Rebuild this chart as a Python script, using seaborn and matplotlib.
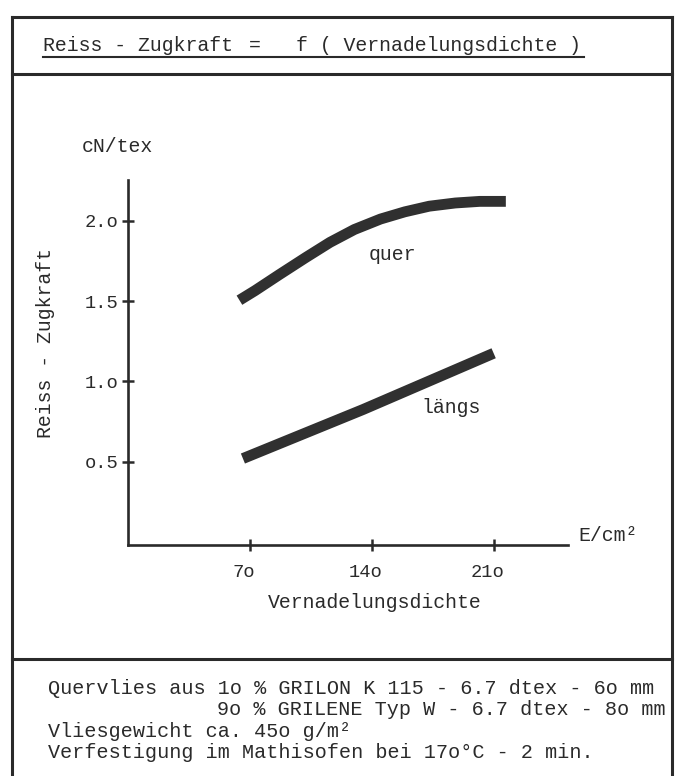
import matplotlib
matplotlib.use("Agg")
import matplotlib.pyplot as plt
from matplotlib.lines import Line2D
from matplotlib.transforms import ScaledTranslation
import numpy as np
import pandas as pd
import seaborn as sns

# ---- data ----
x_quer = [64, 73, 87, 102, 116, 130, 145, 159, 173, 188, 202, 217]
y_quer = [1.505, 1.565, 1.665, 1.77, 1.865, 1.945, 2.01, 2.055, 2.09, 2.11, 2.12, 2.12]
x_laengs = [66, 135, 210]
y_laengs = [0.52, 0.825, 1.175]

x_ticks = [70, 140, 210]
x_tick_labels = ["7o", "14o", "21o"]
y_ticks = [0.5, 1.0, 1.5, 2.0]
y_tick_labels = ["o.5", "1.o", "1.5", "2.o"]

title_left = "Reiss - Zugkraft"
title_right = "f ( Vernadelungsdichte )"
x_label = "Vernadelungsdichte"
y_label = "Reiss - Zugkraft"
y_unit = "cN/tex"
x_unit = "E/cm²"
footer_1 = "Quervlies aus 1o % GRILON K 115 - 6.7 dtex - 6o mm"
footer_2 = "9o % GRILENE Typ W - 6.7 dtex - 8o mm"
footer_3 = "Vliesgewicht ca. 45o g/m²"
footer_4 = "Verfestigung im Mathisofen bei 17o°C - 2 min."

sns.set_theme(style="white")
plt.rcParams["font.family"] = ["Liberation Mono", "DejaVu Sans Mono"]

INK = "#2a2a2a"
W, H = 677, 776
fig = plt.figure(figsize=(W / 100, H / 100), dpi=100)
fig.patch.set_facecolor("white")

FS = 14.5


def P(x, y):
    return x / W, 1 - y / H


def T(x, y, s, **kw):
    kw.setdefault("color", INK)
    kw.setdefault("ha", "left")
    kw.setdefault("va", "baseline")
    fig.text(*P(x, y), s, **kw)


def L(x1, y1, x2, y2, lw=2.2):
    a = P(x1, y1)
    b = P(x2, y2)
    fig.add_artist(Line2D([a[0], b[0]], [a[1], b[1]], transform=fig.transFigure,
                          lw=lw, color=INK, solid_capstyle="projecting"))


ax = fig.add_axes([128 / W, 1 - 545 / H, 440 / W, 365 / H])

df = pd.concat([
    pd.DataFrame({"E": x_quer, "F": y_quer, "Richtung": "quer"}),
    pd.DataFrame({"E": x_laengs, "F": y_laengs, "Richtung": "längs"}),
])
sns.lineplot(data=df, x="E", y="F", hue="Richtung",
             palette={"quer": "#303030", "längs": "#303030"},
             linewidth=7.8, legend=False, ax=ax, sort=False, estimator=None)
for ln in ax.lines:
    ln.set_solid_capstyle("butt")
    ln.set_solid_joinstyle("round")

ax.set_xlim(0, 252.7)
ax.set_ylim(-0.018, 2.253)
ax.set_facecolor("none")
for s in ["top", "right"]:
    ax.spines[s].set_visible(False)
for s in ["left", "bottom"]:
    ax.spines[s].set_linewidth(1.9)
    ax.spines[s].set_color(INK)
    ax.spines[s].set_capstyle("projecting")

ax.set_xticks(x_ticks)
ax.set_xticklabels(x_tick_labels)
ax.set_yticks(y_ticks)
ax.set_yticklabels(y_tick_labels)
ax.tick_params(axis="both", which="major", direction="inout", length=8, width=1.8,
               colors=INK, labelsize=13.5, labelcolor=INK, bottom=True, left=True)
ax.tick_params(axis="x", pad=10)
ax.tick_params(axis="y", pad=3)
shift = ScaledTranslation(-6 / 100, 0, fig.dpi_scale_trans)
for lab in ax.get_xticklabels():
    lab.set_transform(lab.get_transform() + shift)
ax.set_xlabel("")
ax.set_ylabel("")

# labels
ax.text((374.5 - 128) / 440, -(608 - 545) / 365, x_label, transform=ax.transAxes,
        ha="center", va="baseline", fontsize=14.3, color=INK)
ax.text((46 - 128) / 440, (545 - 343) / 365, y_label, transform=ax.transAxes,
        rotation=90, ha="center", va="center", fontsize=14.3, color=INK)
ax.text((82 - 128) / 440, (545 - 152) / 365, y_unit, transform=ax.transAxes,
        ha="left", va="baseline", fontsize=14.3, color=INK)
ax.text((578 - 128) / 440, (545 - 541) / 365, x_unit, transform=ax.transAxes,
        ha="left", va="baseline", fontsize=14.3, color=INK)
ax.text(151.9, 1.756, "quer", ha="center", va="baseline", fontsize=14.3, color=INK)
ax.text(185.4, 0.803, "längs", ha="center", va="baseline", fontsize=14.3, color=INK)

# frame
L(12, 17, 672, 17)
L(12, 17, 12, 776)
L(672, 17, 672, 776)
L(12, 74, 672, 74)
L(12, 659, 672, 659)

# title
T(43, 51, title_left, fontsize=14.3)
T(255, 51, "=", fontsize=14.3, ha="center")
T(296, 51, title_right, fontsize=14.3)
L(43, 57, 584, 57, lw=1.5)

# footer
T(48, 694, footer_1, fontsize=FS)
T(217, 715, footer_2, fontsize=FS)
T(48, 737, footer_3, fontsize=FS)
T(48, 758, footer_4, fontsize=FS)

fig.savefig("out.png", dpi=100, facecolor="white")
